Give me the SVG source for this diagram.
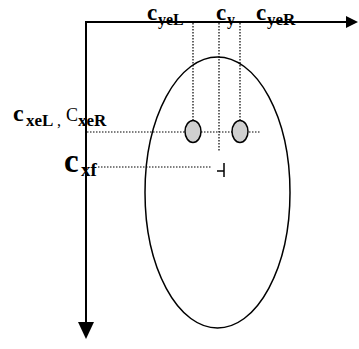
<svg xmlns="http://www.w3.org/2000/svg" width="359" height="349" viewBox="0 0 359 349">
<style>
.ax{stroke:#000;stroke-width:2;fill:none}
.dot{stroke:#000;stroke-width:1.2;stroke-dasharray:1.5 1.5;fill:none}
.ln{stroke:#000;stroke-width:1.5;fill:none}
.eye{fill:#d0d0d0;stroke:#000;stroke-width:1.5}
.b{font-family:"Liberation Serif",serif;font-weight:bold;fill:#000}
.n{font-family:"Liberation Serif",serif;fill:#000}
</style>
<rect width="359" height="349" fill="#fff"/>
<g id="face">
<ellipse cx="217.5" cy="192.5" rx="72.5" ry="135.5" class="ln"/>
</g>
<g id="connectors">
<line x1="193" y1="23" x2="193" y2="128" class="dot"/>
<line x1="219" y1="23" x2="219" y2="152" class="dot"/>
<line x1="240" y1="23" x2="240" y2="128" class="dot"/>
<line x1="87" y1="132" x2="260" y2="132" class="dot"/>
<line x1="98" y1="167" x2="212" y2="167" class="dot"/>
<line x1="217" y1="171" x2="224" y2="171" class="ln"/>
<line x1="224" y1="163" x2="224" y2="177" class="ln" stroke-width="1"/>
</g>
<g id="eye-left"><ellipse cx="193" cy="131.5" rx="8" ry="11" class="eye"/></g>
<g id="eye-right"><ellipse cx="240" cy="131.5" rx="8" ry="11" class="eye"/></g>
<g id="axes">
<line x1="85" y1="22" x2="347" y2="22" class="ax"/>
<polygon points="346,16 358,22 346,28" fill="#000"/>
<line x1="86" y1="22" x2="86" y2="323" class="ax"/>
<polygon points="78,322 94,322 86,339" fill="#000"/>
</g>
<g id="labels">
<text class="b" x="147" y="20" font-size="23">c</text>
<text class="b" x="158" y="25" font-size="16">yeL</text>
<text class="b" x="216" y="20" font-size="23">c</text>
<text class="b" x="227" y="25" font-size="16">y</text>
<text class="b" x="256" y="20" font-size="23">c</text>
<text class="b" x="267" y="25" font-size="17">yeR</text>
<text class="b" x="13" y="121" font-size="24">c</text>
<text class="b" x="26" y="126" font-size="17">xeL</text>
<text class="n" x="57" y="126" font-size="16">,</text>
<text class="n" x="66" y="121" font-size="18">C</text>
<text class="b" x="78" y="126" font-size="17">xeR</text>
<text class="b" x="64" y="172" font-size="33">c</text>
<text class="b" x="81" y="176" font-size="19">xf</text>
</g>
</svg>
